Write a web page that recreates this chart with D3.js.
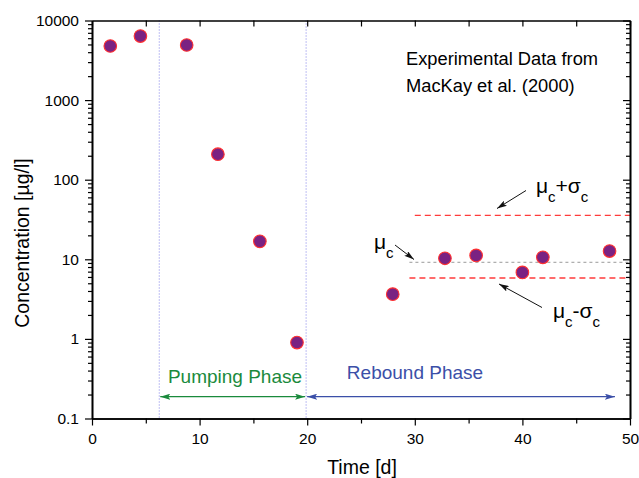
<!DOCTYPE html>
<html>
<head>
<meta charset="utf-8">
<script src="https://cdn.jsdelivr.net/npm/d3@7"></script>
<style>
html,body{margin:0;padding:0;background:#fff;}
svg{display:block;font-family:"Liberation Sans",Arial,sans-serif;}
</style>
</head>
<body>
<svg id="chart" width="639" height="478"></svg>
<script>
// ---- data ----
const days = [1.7, 4.5, 8.8, 11.7, 15.6, 19.05, 27.95, 32.8, 35.7, 40.0, 41.9, 48.1];
const conc = [4780, 6380, 4920, 209, 16.8, 0.90, 3.65, 10.3, 11.2, 6.85, 10.6, 12.7];
const xTicks = [0, 10, 20, 30, 40, 50];
const xMinorTicks = [5, 15, 25, 35, 45];
const yTicks = [0.1, 1, 10, 100, 1000, 10000];
const yTickLabels = ["0.1", "1", "10", "100", "1000", "10000"];
const statNames = ["mu", "muPlus", "muMinus"];
const statValues = [9.17, 35.7, 5.82];
const statStart = [29.5, 30, 29.5];
const phaseBounds = [6.25, 19.9, 48.6];
const phaseNames = ["Pumping Phase", "Rebound Phase"];
const noteLines = ["Experimental Data from", "MacKay et al. (2000)"];

// ---- layout ----
const svg = d3.select("#chart");
const L = 92, R = 630, T = 20.5, B = 418.5;
const x = d3.scaleLinear().domain([0, 50]).range([L, R]);
const y = d3.scaleLog().domain([0.1, 10000]).range([B, T]);

const minorY = [];
for (let e = -1; e < 4; e++) for (let k = 2; k <= 9; k++) minorY.push(k * Math.pow(10, e));

const defs = svg.append("defs");
function marker(id, color, orient) {
  defs.append("marker").attr("id", id).attr("viewBox", "0 0 10 6")
    .attr("refX", 10).attr("refY", 3).attr("markerWidth", 10).attr("markerHeight", 6)
    .attr("markerUnits", "userSpaceOnUse").attr("orient", orient)
    .append("path").attr("d", "M0,0 L10,3 L0,6 L2,3 Z").attr("fill", color);
}
marker("gEnd", "#1a8a3c", "auto");
marker("gStart", "#1a8a3c", "auto-start-reverse");
marker("bEnd", "#3b4fa8", "auto");
marker("bStart", "#3b4fa8", "auto-start-reverse");
marker("kEnd", "#111", "auto");

// vertical phase lines
svg.selectAll("line.phase").data(phaseBounds.slice(0, 2)).enter().append("line")
  .attr("x1", d => x(d)).attr("x2", d => x(d)).attr("y1", T).attr("y2", B)
  .attr("stroke", "#7f7fe8").attr("stroke-width", 1).attr("stroke-dasharray", "1,2");

// stat lines
const statStyle = {
  mu: {c: "#9a9a9a", dash: "3,3", w: 1},
  muPlus: {c: "#ff3b3b", dash: "6,4", w: 1.3},
  muMinus: {c: "#ff3b3b", dash: "6,4", w: 1.3}
};
statNames.forEach((n, i) => {
  svg.append("line").attr("x1", x(statStart[i])).attr("x2", R)
    .attr("y1", y(statValues[i])).attr("y2", y(statValues[i]))
    .attr("stroke", statStyle[n].c).attr("stroke-width", statStyle[n].w)
    .attr("stroke-dasharray", statStyle[n].dash);
});

// axes
const gx = svg.append("g").attr("transform", `translate(0,${B})`)
  .call(d3.axisBottom(x).tickValues(xTicks).tickSize(7).tickSizeOuter(0).tickPadding(6).tickFormat(d3.format("d")));
const gxm = svg.append("g").attr("transform", `translate(0,${B})`)
  .call(d3.axisBottom(x).tickValues(xMinorTicks).tickSize(5).tickSizeOuter(0).tickFormat(""));
const gxt = svg.append("g").attr("transform", `translate(0,${T})`)
  .call(d3.axisBottom(x).tickValues(xTicks.concat(xMinorTicks)).tickSize(6).tickSizeOuter(0).tickFormat(""));
const gy = svg.append("g").attr("transform", `translate(${L},0)`)
  .call(d3.axisLeft(y).tickValues(yTicks).tickSize(7).tickSizeOuter(0).tickPadding(6)
    .tickFormat((d, i) => yTickLabels[i]));
const gym = svg.append("g").attr("transform", `translate(${L},0)`)
  .call(d3.axisLeft(y).tickValues(minorY).tickSize(4).tickSizeOuter(0).tickFormat(""));
const gyr = svg.append("g").attr("transform", `translate(${R},0)`)
  .call(d3.axisLeft(y).tickValues(yTicks).tickSize(7).tickSizeOuter(0).tickFormat(""));
const gyrm = svg.append("g").attr("transform", `translate(${R},0)`)
  .call(d3.axisLeft(y).tickValues(minorY).tickSize(4).tickSizeOuter(0).tickFormat(""));
gyr.selectAll(".tick line").attr("x2", -7);
gyrm.selectAll(".tick line").attr("x2", -4);
[gx, gxm, gxt, gy, gym, gyr, gyrm].forEach(g => {
  g.select(".domain").attr("stroke", "#000").attr("stroke-width", 1.6);
  g.selectAll(".tick line").attr("stroke", "#000").attr("stroke-width", 1.2);
  g.selectAll("text").attr("font-family", "Liberation Sans, Arial, sans-serif")
    .attr("font-size", 15.5).attr("fill", "#000");
});
gx.selectAll("text").attr("dy", "0.8em");

// axis titles
svg.append("text").attr("x", 362).attr("y", 474).attr("text-anchor", "middle")
  .attr("font-size", 19.5).text("Time [d]");
svg.append("text").attr("transform", "translate(29,243) rotate(-90)").attr("text-anchor", "middle")
  .attr("font-size", 19.5).text("Concentration [µg/l]");

// phase arrows
const ay = 396.7;
svg.append("line").attr("x1", x(phaseBounds[0]) + 1).attr("x2", x(phaseBounds[1]) - 1)
  .attr("y1", ay).attr("y2", ay).attr("stroke", "#1a8a3c").attr("stroke-width", 1.3)
  .attr("marker-start", "url(#gStart)").attr("marker-end", "url(#gEnd)");
svg.append("line").attr("x1", x(phaseBounds[1]) + 1).attr("x2", x(phaseBounds[2]))
  .attr("y1", ay).attr("y2", ay).attr("stroke", "#3b4fa8").attr("stroke-width", 1.3)
  .attr("marker-start", "url(#bStart)").attr("marker-end", "url(#bEnd)");
svg.append("text").attr("x", 235).attr("y", 382.5).attr("text-anchor", "middle")
  .attr("font-size", 19).attr("fill", "#1a8a3c").text(phaseNames[0]);
svg.append("text").attr("x", 415).attr("y", 379).attr("text-anchor", "middle")
  .attr("font-size", 19).attr("fill", "#3b4fa8").text(phaseNames[1]);

// note
noteLines.forEach((t, i) => {
  svg.append("text").attr("x", 406).attr("y", 65 + i * 27).attr("font-size", 18.3).text(t);
});

// stat labels with arrows
function label(xp, yp, sign) {
  const t = svg.append("text").attr("x", xp).attr("y", yp).attr("font-size", 21);
  t.append("tspan").text("μ");
  t.append("tspan").attr("font-size", 15).attr("dy", 9).text("c");
  if (sign) {
    t.append("tspan").attr("dy", -9).text(sign + "σ");
    t.append("tspan").attr("font-size", 15).attr("dy", 9).text("c");
  }
}
label(536, 193, "+");
label(374, 249, null);
label(553, 318, "-");
function arrow(x1, y1, x2, y2) {
  svg.append("line").attr("x1", x1).attr("y1", y1).attr("x2", x2).attr("y2", y2)
    .attr("stroke", "#111").attr("stroke-width", 1).attr("marker-end", "url(#kEnd)");
}
arrow(526, 190.5, 497, 208.5);
arrow(395, 245, 414, 259.5);
arrow(542, 307.5, 499, 284);

// data points
svg.selectAll("circle.pt").data(days.map((d, i) => [d, conc[i]])).enter().append("circle")
  .attr("class", "pt").attr("cx", d => x(d[0])).attr("cy", d => y(d[1])).attr("r", 6.3)
  .attr("fill", "#7a2282").attr("stroke", "#ff3030").attr("stroke-width", 1.1);
</script>
</body>
</html>
